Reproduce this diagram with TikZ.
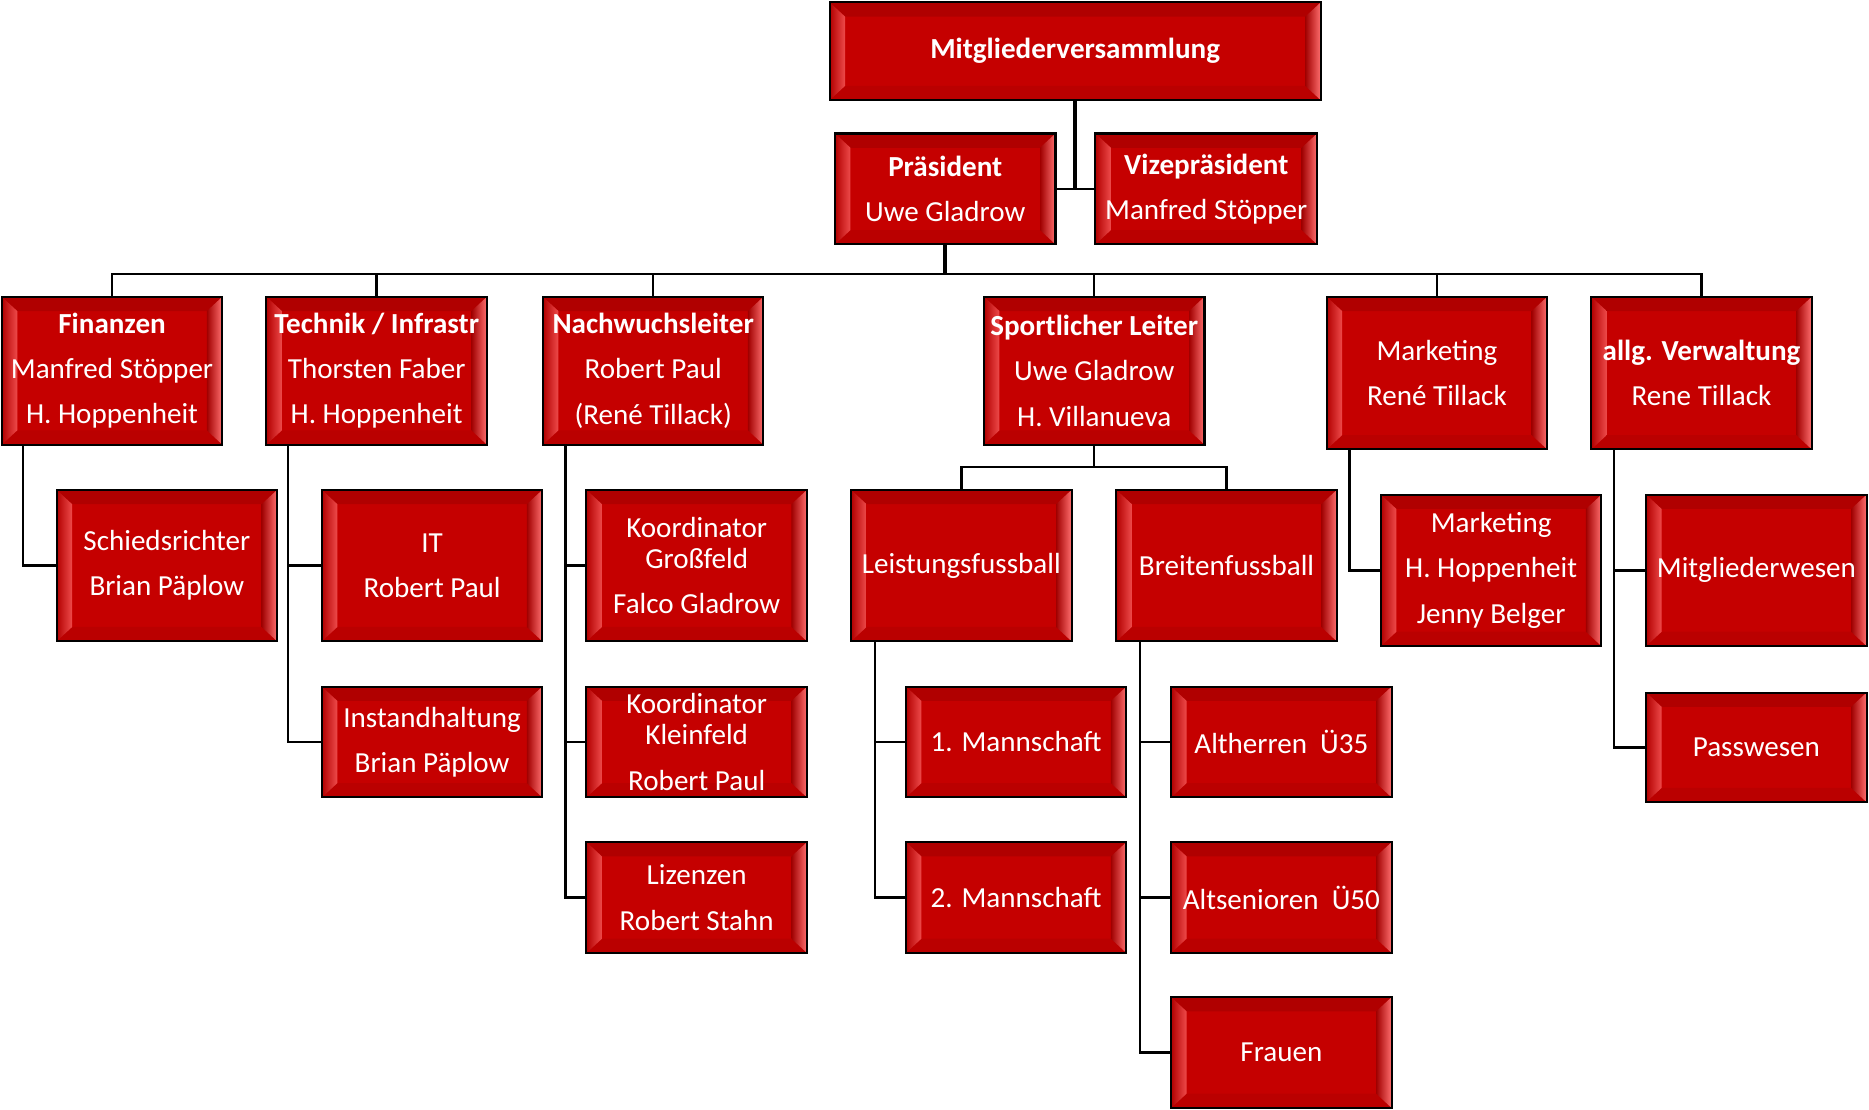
\documentclass[tikz,border=0pt]{standalone}
\usepackage{fontspec}
\setmainfont{Carlito}
\definecolor{boxred}{RGB}{197,0,0}
\definecolor{bevtop}{RGB}{176,0,0}
\definecolor{bevbot}{RGB}{186,0,0}
\definecolor{bevlo}{RGB}{178,0,0}
\definecolor{bevlm}{RGB}{205,15,15}
\definecolor{bevli}{RGB}{238,75,75}
\definecolor{bevri}{RGB}{160,0,0}
\definecolor{bevrm}{RGB}{212,25,25}
\definecolor{bevro}{RGB}{255,110,110}
\tikzset{
  bevel/.style={path picture={
    \coordinate (ppA) at (path picture bounding box.south west);
    \coordinate (ppB) at (path picture bounding box.south east);
    \coordinate (ppC) at (path picture bounding box.north east);
    \coordinate (ppD) at (path picture bounding box.north west);
    \coordinate (ppa) at ([shift={(6.5pt,6pt)}]ppA);
    \coordinate (ppb) at ([shift={(-6.5pt,6pt)}]ppB);
    \coordinate (ppc) at ([shift={(-6.5pt,-6pt)}]ppC);
    \coordinate (ppd) at ([shift={(6.5pt,-6pt)}]ppD);
    \fill[bevtop] (ppD)--(ppC)--(ppc)--(ppd)--cycle;
    \fill[bevbot] (ppA)--(ppB)--(ppb)--(ppa)--cycle;
    \shade[left color=bevlo, middle color=bevlm, right color=bevli] (ppA)--(ppa)--(ppd)--(ppD)--cycle;
    \shade[left color=bevri, middle color=bevrm, right color=bevro] (ppB)--(ppb)--(ppc)--(ppC)--cycle;
  }},
  box/.style={draw=black, line width=0.85pt, fill=boxred, text=white, align=center,
    inner sep=0pt, outer sep=0pt, minimum width=92.5pt,
    font=\fontsize{12.2}{19}\selectfont, bevel},
  hA/.style={minimum height=46.5pt},
  hB/.style={minimum height=62pt},
  hC/.style={minimum height=63.5pt},
  hD/.style={minimum height=64pt},
  conn/.style={draw=black, line width=1pt},
  trunk/.style={draw=black, line width=1.6pt},
}
\begin{document}
\begin{tikzpicture}[x=0.5pt, y=-0.5pt]
\useasboundingbox (0,0) rectangle (1568,931);
% top
\node[box, minimum width=206pt, minimum height=41pt] (mv) at (902,43) {\bfseries Mitgliederversammlung};
\node[box, hA] (pr) at (793,158.5) {\bfseries Präsident\\Uwe Gladrow};
\node[box, hA, minimum width=93pt] (vp) at (1012,158.5) {\bfseries Vizepräsident\\Manfred Stöpper};
% row 2
\node[box, hB] (fin) at (94,311) {\bfseries Finanzen\\Manfred Stöpper\\H. Hoppenheit};
\node[box, hB] (tech) at (316,311) {\bfseries Technik / Infrastr\\Thorsten Faber\\H. Hoppenheit};
\node[box, hB] (nach) at (548,311) {\bfseries Nachwuchsleiter\\Robert Paul\\(René Tillack)};
\node[box, hB] (sport) at (918,311) {\bfseries Sportlicher Leiter\\Uwe Gladrow\\H. Villanueva};
\node[box, hD] (mark) at (1205.5,313) {Marketing\\René Tillack};
\node[box, hD] (verw) at (1427.5,313) {\bfseries allg. Verwaltung\\Rene Tillack};
% children
\node[box, hC] (schied) at (140,474.5) {Schiedsrichter\\Brian Päplow};
\node[box, hC] (it) at (362.5,474.5) {IT\\Robert Paul};
\node[box, hA] (inst) at (362.5,622.5) {Instandhaltung\\Brian Päplow};
\node[box, hC] (kg) at (584.5,474.5) {Koordinator\\[-6pt]Großfeld\\Falco Gladrow};
\node[box, hA] (kk) at (584.5,622.5) {Koordinator\\[-6pt]Kleinfeld\\Robert Paul};
\node[box, hA] (liz) at (584.5,753) {Lizenzen\\Robert Stahn};
\node[box, hC] (leist) at (806.5,474.5) {Leistungsfussball};
\node[box, hC] (breit) at (1029,474.5) {Breitenfussball};
\node[box, hA] (m1) at (852.5,622.5) {1. Mannschaft};
\node[box, hA] (m2) at (852.5,753) {2. Mannschaft};
\node[box, hA] (alth) at (1075,622.5) {Altherren~~Ü35};
\node[box, hA] (alts) at (1075,753) {Altsenioren~~Ü50};
\node[box, hA] (frau) at (1075,883) {Frauen};
\node[box, hC] (mk2) at (1251,478.5) {Marketing\\H. Hoppenheit\\Jenny Belger};
\node[box, hC] (mgw) at (1473.5,478.5) {Mitgliederwesen};
\node[box, hA, minimum height=46pt] (pass) at (1473.5,627) {Passwesen};
% connectors top
\draw[trunk] (mv.south) -- (mv.south |- pr.east);
\draw[conn] (pr.east) -- (vp.west);
\coordinate (bus) at (793,230);
\draw[trunk] (pr.south) -- (pr.south |- bus);
\draw[conn] (fin.north) -- (fin.north |- bus) -- (verw.north |- bus) -- (verw.north);
\draw[conn] (tech.north) -- (tech.north |- bus);
\draw[conn] (nach.north) -- (nach.north |- bus);
\draw[conn] (sport.north) -- (sport.north |- bus);
\draw[conn] (mark.north) -- (mark.north |- bus);
% sub trees
\draw[conn] ([xshift=9pt]fin.south west) |- (schied.west);
\draw[conn] ([xshift=9pt]tech.south west) |- (inst.west);
\draw[conn] ([xshift=9pt]tech.south west) |- (it.west);
\draw[conn] ([xshift=9.5pt]nach.south west) |- (liz.west);
\draw[conn] ([xshift=9.5pt]nach.south west) |- (kk.west);
\draw[conn] ([xshift=9.5pt]nach.south west) |- (kg.west);
\coordinate (sj) at (918,392);
\draw[conn] (sport.south) -- (sj);
\draw[conn] (leist.north) -- (leist.north |- sj) -- (breit.north |- sj) -- (breit.north);
\draw[conn] ([xshift=10pt]leist.south west) |- (m2.west);
\draw[conn] ([xshift=10pt]leist.south west) |- (m1.west);
\draw[conn] ([xshift=10pt]breit.south west) |- (frau.west);
\draw[conn] ([xshift=10pt]breit.south west) |- (alts.west);
\draw[conn] ([xshift=10pt]breit.south west) |- (alth.west);
\draw[conn] ([xshift=9.5pt]mark.south west) |- (mk2.west);
\draw[conn] ([xshift=9.5pt]verw.south west) |- (pass.west);
\draw[conn] ([xshift=9.5pt]verw.south west) |- (mgw.west);
\end{tikzpicture}
\end{document}
